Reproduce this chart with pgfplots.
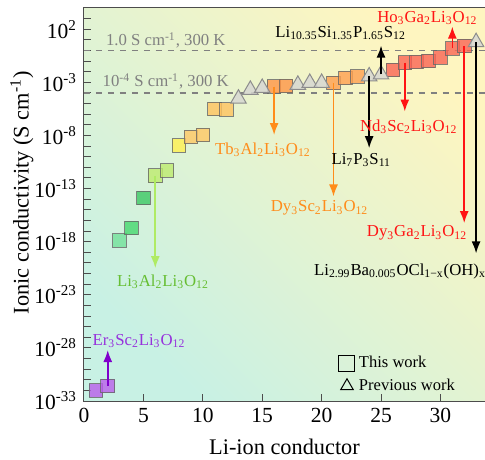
\documentclass[border=0pt]{standalone}
\usepackage{fontspec}
\setmainfont{Liberation Serif}
\usepackage{pgfplots}
\pgfplotsset{compat=1.18}
\usetikzlibrary{arrows.meta}
\pgfplotsset{single mark legend/.style={legend image code/.code={\draw[##1] plot coordinates {(0bp,0bp)};}}}
\definecolor{bgA}{RGB}{200,241,228}
\definecolor{bgB}{RGB}{240,251,248}
\definecolor{bgC}{RGB}{254,245,192}
\definecolor{cPur}{RGB}{185,95,235}
\definecolor{cG1}{RGB}{115,225,155}
\definecolor{cG2}{RGB}{70,215,110}
\definecolor{cG3}{RGB}{60,200,100}
\definecolor{cYG}{RGB}{190,235,110}
\definecolor{cY}{RGB}{255,240,80}
\definecolor{cLO}{RGB}{255,200,100}
\definecolor{cLO2}{RGB}{255,195,95}
\definecolor{cO}{RGB}{255,150,70}
\definecolor{cO2}{RGB}{255,160,80}
\definecolor{cR}{RGB}{250,100,85}
\definecolor{cTri}{RGB}{215,215,210}
\definecolor{tOr}{RGB}{255,140,26}
\definecolor{tRed}{RGB}{255,20,20}
\definecolor{tGreen}{RGB}{102,190,50}
\definecolor{aGreen}{RGB}{175,235,100}
\definecolor{tPur}{RGB}{150,50,220}
\definecolor{aPur}{RGB}{128,0,204}
\definecolor{tGray}{RGB}{128,128,128}
\newcommand{\anno}{\fontsize{8.4}{10}\selectfont}
\newcommand{\sub}[1]{\textsubscript{#1}}
\begin{document}
\begin{tikzpicture}[x=1bp,y=1bp]
\begin{axis}[
  at={(0,0)}, anchor=south west,
  scale only axis, width=200.5bp, height=196.5bp,
  ymode=log, log basis y=10,
  xmin=0, xmax=33.75, ymin=1e-33, ymax=1e4,
  xtick={0,5,...,30},
  ytick={1e-33,1e-28,1e-23,1e-18,1e-13,1e-8,1e-3,1e2},
  yticklabels={10\textsuperscript{-33},10\textsuperscript{-28},10\textsuperscript{-23},10\textsuperscript{-18},10\textsuperscript{-13},10\textsuperscript{-8},10\textsuperscript{-3},10\textsuperscript{2}},
  minor ytick={1e-32,1e-31,1e-30,1e-29,1e-27,1e-26,1e-25,1e-24,1e-22,1e-21,1e-20,1e-19,1e-17,1e-16,1e-15,1e-14,1e-12,1e-11,1e-10,1e-9,1e-7,1e-6,1e-5,1e-4,1e-2,1e-1,1e0,1e1,1e3},
  tick pos=left,
  major tick length=3.5bp, minor tick length=3.5bp,
  every tick/.style={black!70, line width=0.5bp},
  axis line style={black!70, line width=0.5bp},
  /pgf/number format/assume math mode=true,
  ticklabel style={font=\fontsize{10.8}{12}\selectfont},
  label style={font=\fontsize{11.2}{13}\selectfont},
  xlabel={Li-ion conductor},
  ylabel={Ionic conductivity (S cm\textsuperscript{-1})},
  x label style={at={(axis description cs:0.5,-0.117)}, anchor=center},
  y label style={at={(axis description cs:-0.155,0.53)}, anchor=center},
  axis background/.style={shade, left color=bgA, middle color=bgB, right color=bgC, shading angle=135},
  clip mode=individual,
  legend cell align=left,
  legend style={at={(0.62,0.135)}, anchor=north west, draw=none, fill=none, font=\fontsize{8.3}{10}\selectfont, row sep=0bp},
  sq/.style={only marks, forget plot, mark=square*, mark size=3.4bp, mark options={fill=#1, fill opacity=0.8, draw=black!60, draw opacity=0.8, line width=0.5bp}},
  tri/.style={only marks, forget plot, mark=triangle*, mark size=4.5bp, mark options={fill=cTri, fill opacity=0.85, draw=black!45, line width=0.5bp}},
  arr/.style={forget plot, no marks, draw=#1, line width=0.8bp, -{Latex[length=6bp,width=4.5bp]}},
]
% reference lines
\addplot[forget plot, tGray, dashed, line width=0.6bp] coordinates {(0,1) (33.75,1)};
\addplot[forget plot, tGray, dashed, line width=0.6bp] coordinates {(0,1e-4) (33.75,1e-4)};
% this work (squares)
\addplot[sq=cPur] coordinates {(1,1e-32) (2,2.5e-32)};
\addplot[sq=cG1] coordinates {(3,1.26e-18)};
\addplot[sq=cG2] coordinates {(4,2e-17)};
\addplot[sq=cG3] coordinates {(5,1.26e-14)};
\addplot[sq=cYG] coordinates {(6,1.6e-12) (7,5e-12)};
\addplot[sq=cY] coordinates {(8,1.1e-9)};
\addplot[sq=cLO] coordinates {(9,7.4e-9) (10,1.1e-8)};
\addplot[sq=cLO2] coordinates {(11,3.2e-6) (12,2.9e-6)};
\addplot[sq=cO] coordinates {(16,4e-4) (17,4.7e-4)};
\addplot[sq=cO2] coordinates {(21,9e-4) (22,2.5e-3) (23,3.5e-3)};
\addplot[sq=cR] coordinates {(26,1.5e-2) (27,7e-2) (28,8e-2) (29,1e-1) (30,2.2e-1) (31,1.6) (32,2.75)};
% previous work (triangles)
\addplot[tri] coordinates {(13,2.9e-5) (14,1.95e-4) (15,2.95e-4) (18,5.8e-4) (19,8.7e-4) (20,8.7e-4) (24,3.6e-3) (25,5.5e-3) (33,6)};
% arrows
\addplot[arr=aPur] coordinates {(2,2.5e-32) (2,6.3e-29)};
\addplot[arr=aGreen] coordinates {(6,1.6e-12) (6,3.2e-21)};
\addplot[arr=tOr] coordinates {(16,4e-4) (16,1.1e-8)};
\addplot[arr=tOr] coordinates {(21,9e-4) (21,1.8e-14)};
\addplot[arr=black] coordinates {(24,3.6e-3) (24,6.3e-10)};
\addplot[arr=black] coordinates {(25,5.5e-3) (25,2.9)};
\addplot[arr=tRed] coordinates {(27,7e-2) (27,1.8e-6)};
\addplot[arr=tRed] coordinates {(31,1.6) (31,178)};
\addplot[arr=tRed] coordinates {(32,2.75) (32,5.6e-17)};
\addplot[arr=black] coordinates {(33,6) (33,7.9e-20)};
% legend
\addlegendimage{only marks, mark=square, mark size=4bp, mark options={draw=black, fill=white, line width=0.5bp}, single mark legend}
\addlegendentry{This work}
\addlegendimage{only marks, mark=triangle, mark size=3.6bp, mark options={draw=black, line width=0.5bp}, single mark legend}
\addlegendentry{Previous work}
% annotations
\node[text=tGray, anchor=west, font=\anno] at (axis cs:1.26,9.1) {1.0 S cm\textsuperscript{-1}, 300 K};
\node[text=tGray, anchor=west, font=\anno] at (axis cs:0.98,1.2e-3) {10\textsuperscript{-4} S cm\textsuperscript{-1}, 300 K};
\node[text=tOr, font=\anno] at (axis cs:15.06,4.4e-10) {Tb\sub{3}Al\sub{2}Li\sub{3}O\sub{12}};
\node[text=black, font=\anno] at (axis cs:23.34,5e-11) {Li\sub{7}P\sub{3}S\sub{11}};
\node[text=tOr, font=\anno] at (axis cs:19.83,1.45e-15) {Dy\sub{3}Sc\sub{2}Li\sub{3}O\sub{12}};
\node[text=tRed, font=\anno] at (axis cs:27.33,6.9e-8) {Nd\sub{3}Sc\sub{2}Li\sub{3}O\sub{12}};
\node[text=tRed, font=\anno] at (axis cs:28.03,6.3e-18) {Dy\sub{3}Ga\sub{2}Li\sub{3}O\sub{12}};
\node[text=black, font=\anno] at (axis cs:26.6,1.6e-21) {Li\sub{2.99}Ba\sub{0.005}OCl\sub{1−x}(OH)\sub{x}};
\node[text=black, font=\anno] at (axis cs:21.6,41.7) {Li\sub{10.35}Si\sub{1.35}P\sub{1.65}S\sub{12}};
\node[text=tRed, font=\anno] at (axis cs:28.9,1070) {Ho\sub{3}Ga\sub{2}Li\sub{3}O\sub{12}};
\node[text=tGreen, font=\anno] at (axis cs:6.65,1.8e-22) {Li\sub{3}Al\sub{2}Li\sub{3}O\sub{12}};
\node[text=tPur, font=\anno] at (axis cs:4.63,4.2e-28) {Er\sub{3}Sc\sub{2}Li\sub{3}O\sub{12}};
\end{axis}
\pgfresetboundingbox
\path[use as bounding box] (-42bp,-29.5bp) rectangle (200.5bp,200.5bp);
\end{tikzpicture}
\end{document}
